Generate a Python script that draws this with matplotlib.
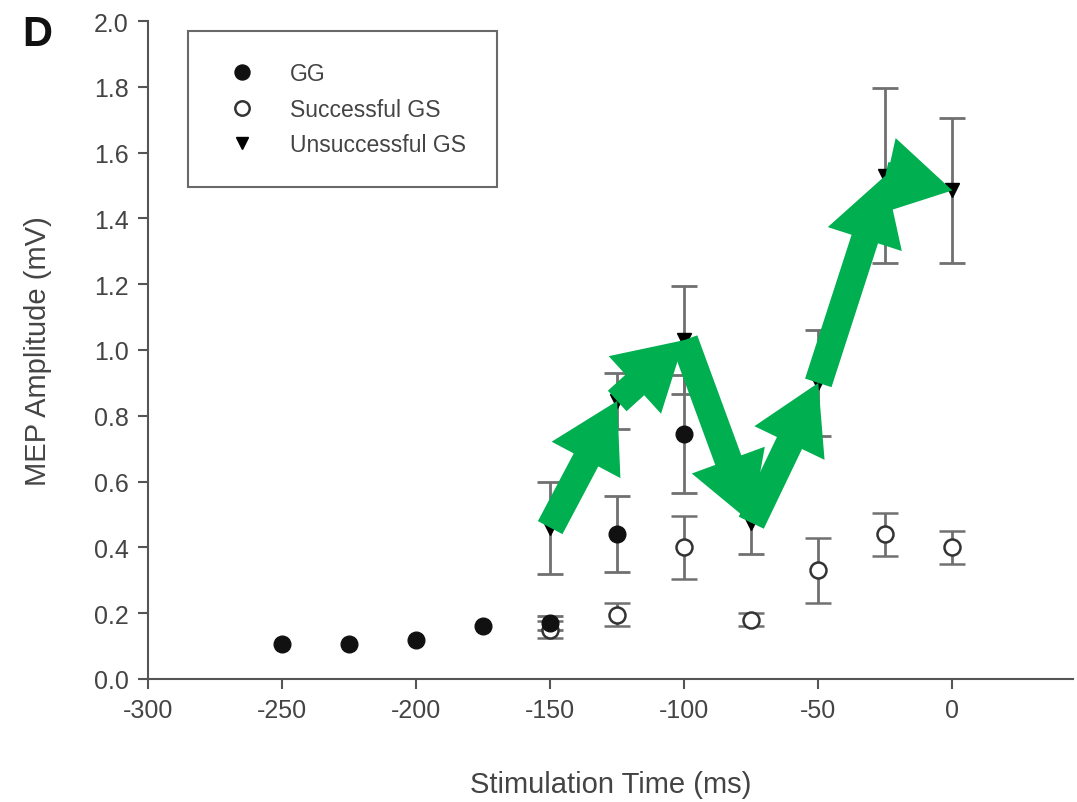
import numpy as np
import matplotlib.pyplot as plt
from matplotlib.patches import FancyArrowPatch

plt.rcParams['font.family'] = ['Liberation Sans', 'DejaVu Sans']
plt.rcParams['axes.unicode_minus'] = False

# GG condition (error bars too small to show before -150)
gg_t = [-250, -225, -200, -175, -150, -125, -100]
gg_mep = [0.105, 0.105, 0.12, 0.16, 0.17, 0.44, 0.745]
gg_err = [0.0, 0.0, 0.0, 0.0, 0.02, 0.115, 0.18]

# successful stop trials
sgs_t = [-150, -125, -100, -75, -50, -25, 0]
sgs_mep = [0.15, 0.195, 0.40, 0.18, 0.33, 0.44, 0.40]
sgs_err = [0.025, 0.035, 0.095, 0.02, 0.10, 0.065, 0.05]

# unsuccessful stop trials
ugs_t = [-150, -125, -100, -75, -50, -25, 0]
ugs_mep = [0.46, 0.845, 1.03, 0.475, 0.90, 1.53, 1.485]
ugs_err = [0.14, 0.085, 0.165, 0.095, 0.16, 0.265, 0.22]

x_ticks = [-300, -250, -200, -150, -100, -50, 0]
y_ticks = np.arange(0, 2.01, 0.2)

txt = '#444444'
bar_col = '#707070'

fig = plt.figure(figsize=(10.77, 8.03), dpi=100)
ax = fig.add_axes([0.1374, 0.1532, 0.8589, 0.8194])

eb = dict(ecolor=bar_col, elinewidth=2, capsize=9.5, capthick=2, linestyle='none', zorder=2)
ax.errorbar(ugs_t, ugs_mep, yerr=ugs_err, fmt='v', color='black', ms=10, **eb,
            label='Unsuccessful GS')
ax.errorbar(sgs_t, sgs_mep, yerr=sgs_err, fmt='o', mfc='white', mec='#333333', mew=1.8,
            ms=11.5, **eb, label='Successful GS')

gg_t = np.array(gg_t)
gg_mep = np.array(gg_mep)
gg_err = np.array(gg_err)
has_err = gg_err > 0
ax.errorbar(gg_t[has_err], gg_mep[has_err], yerr=gg_err[has_err], fmt='none', **eb)
ax.plot(gg_t, gg_mep, 'o', color='#111111', ms=12, zorder=3, label='GG')

# green arrows tracing the unsuccessful GS trend
for i in range(len(ugs_t) - 1):
    arr = FancyArrowPatch((ugs_t[i], ugs_mep[i]), (ugs_t[i + 1], ugs_mep[i + 1]),
                          arrowstyle='simple,head_width=2.8,head_length=2.4,tail_width=1.0',
                          mutation_scale=20, shrinkA=0, shrinkB=0,
                          color='#00AF50', lw=0, zorder=5)
    ax.add_patch(arr)

ax.set_xlim(-300, 45)
ax.set_ylim(0, 2.0)
ax.set_xticks(x_ticks)
ax.set_yticks(y_ticks)
ax.set_yticklabels([f'{v:.1f}' for v in y_ticks])
for s in ['top', 'right']:
    ax.spines[s].set_visible(False)
for s in ['left', 'bottom']:
    ax.spines[s].set_color('#555555')
    ax.spines[s].set_linewidth(1.5)
ax.tick_params(direction='out', length=7, width=1.5, color='#555555',
               labelsize=18, labelcolor=txt, pad=7)

ax.set_xlabel('Stimulation Time (ms)', fontsize=21, color=txt, labelpad=34)
ax.set_ylabel('MEP Amplitude (mV)', fontsize=21, color=txt, labelpad=30)

handles, labels = ax.get_legend_handles_labels()
hmap = dict(zip(labels, handles))
names = ['GG', 'Successful GS', 'Unsuccessful GS']
leg_handles = [h[0] if isinstance(h, tuple) or hasattr(h, 'lines') else h
               for h in (hmap[n] for n in names)]
leg = ax.legend(leg_handles, names,
                loc='upper left', bbox_to_anchor=(188 / 1077, 1 - 32 / 803),
                bbox_transform=fig.transFigure, fontsize=16.5, markerscale=0.9,
                frameon=True, fancybox=False, edgecolor='#444444',
                borderpad=1.35, handletextpad=1.1, labelspacing=0.55,
                borderaxespad=0)
leg.get_frame().set_linewidth(1.5)
for t in leg.get_texts():
    t.set_color(txt)

fig.text(22 / 1077, 1 - 35 / 803, 'D', fontsize=30, fontweight='bold',
         color='#111111', va='center', ha='left')

fig.savefig('out.png', dpi=100)
